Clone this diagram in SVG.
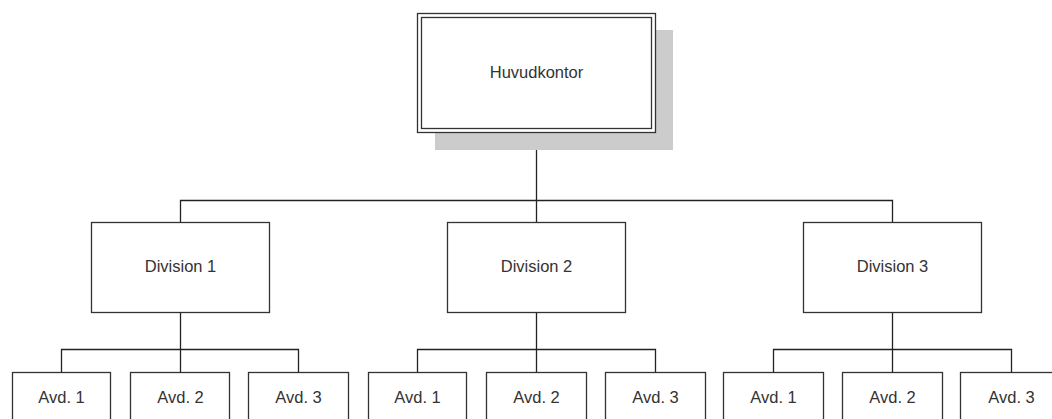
<svg xmlns="http://www.w3.org/2000/svg" width="1052" height="419" viewBox="0 0 1052 419">
  <style>
    .box { fill: #ffffff; stroke: #333333; stroke-width: 1.3; }
    .shadow { fill: #cccccc; stroke: none; }
    .line { fill: none; stroke: #222222; stroke-width: 1.3; }
    .label { font-family: "Liberation Sans", Arial, sans-serif; font-size: 16.5px; fill: #333333; text-anchor: middle; }
  </style>
  <rect width="1052" height="419" fill="#ffffff"/>

  <!-- connectors -->
  <g id="connectors">
    <!-- head office to divisions -->
    <path class="line" d="M536.5 132.5 V200.5 M180.5 222.5 V200.5 H892.5 V222.5 M536.5 200.5 V222.5"/>
    <!-- division 1 to departments -->
    <path class="line" d="M180.5 312.5 V349.5 M61.5 372.5 V349.5 H298.5 V372.5 M180.5 349.5 V372.5"/>
    <!-- division 2 to departments -->
    <path class="line" d="M536.5 312.5 V349.5 M417.5 372.5 V349.5 H655.5 V372.5 M536.5 349.5 V372.5"/>
    <!-- division 3 to departments -->
    <path class="line" d="M892.5 312.5 V349.5 M773.5 372.5 V349.5 H1011.5 V372.5 M892.5 349.5 V372.5"/>
  </g>

  <!-- head office -->
  <g id="huvudkontor">
    <rect class="shadow" x="435" y="30" width="238" height="120"/>
    <rect class="box" x="417.5" y="13.5" width="238" height="119"/>
    <rect class="box" x="421.5" y="17.5" width="230" height="111"/>
    <text class="label" x="536.5" y="77.5">Huvudkontor</text>
  </g>

  <!-- divisions -->
  <g id="division-1">
    <rect class="box" x="91.5" y="222.5" width="178" height="90"/>
    <text class="label" x="180.5" y="271.5">Division 1</text>
  </g>
  <g id="division-2">
    <rect class="box" x="447.5" y="222.5" width="178" height="90"/>
    <text class="label" x="536.5" y="271.5">Division 2</text>
  </g>
  <g id="division-3">
    <rect class="box" x="803.5" y="222.5" width="178" height="90"/>
    <text class="label" x="892.5" y="271.5">Division 3</text>
  </g>

  <!-- departments of division 1 -->
  <g id="d1-avd-1">
    <rect class="box" x="12.5" y="372.5" width="98" height="70"/>
    <text class="label" x="61.5" y="403">Avd. 1</text>
  </g>
  <g id="d1-avd-2">
    <rect class="box" x="130.5" y="372.5" width="99" height="70"/>
    <text class="label" x="180.5" y="403">Avd. 2</text>
  </g>
  <g id="d1-avd-3">
    <rect class="box" x="248.5" y="372.5" width="100" height="70"/>
    <text class="label" x="298.5" y="403">Avd. 3</text>
  </g>

  <!-- departments of division 2 -->
  <g id="d2-avd-1">
    <rect class="box" x="368.5" y="372.5" width="98" height="70"/>
    <text class="label" x="417.5" y="403">Avd. 1</text>
  </g>
  <g id="d2-avd-2">
    <rect class="box" x="486.5" y="372.5" width="100" height="70"/>
    <text class="label" x="536.5" y="403">Avd. 2</text>
  </g>
  <g id="d2-avd-3">
    <rect class="box" x="605.5" y="372.5" width="100" height="70"/>
    <text class="label" x="655.5" y="403">Avd. 3</text>
  </g>

  <!-- departments of division 3 -->
  <g id="d3-avd-1">
    <rect class="box" x="723.5" y="372.5" width="100" height="70"/>
    <text class="label" x="773.5" y="403">Avd. 1</text>
  </g>
  <g id="d3-avd-2">
    <rect class="box" x="842.5" y="372.5" width="100" height="70"/>
    <text class="label" x="892.5" y="403">Avd. 2</text>
  </g>
  <g id="d3-avd-3">
    <rect class="box" x="960.5" y="372.5" width="100" height="70"/>
    <text class="label" x="1011.5" y="403">Avd. 3</text>
  </g>
</svg>
